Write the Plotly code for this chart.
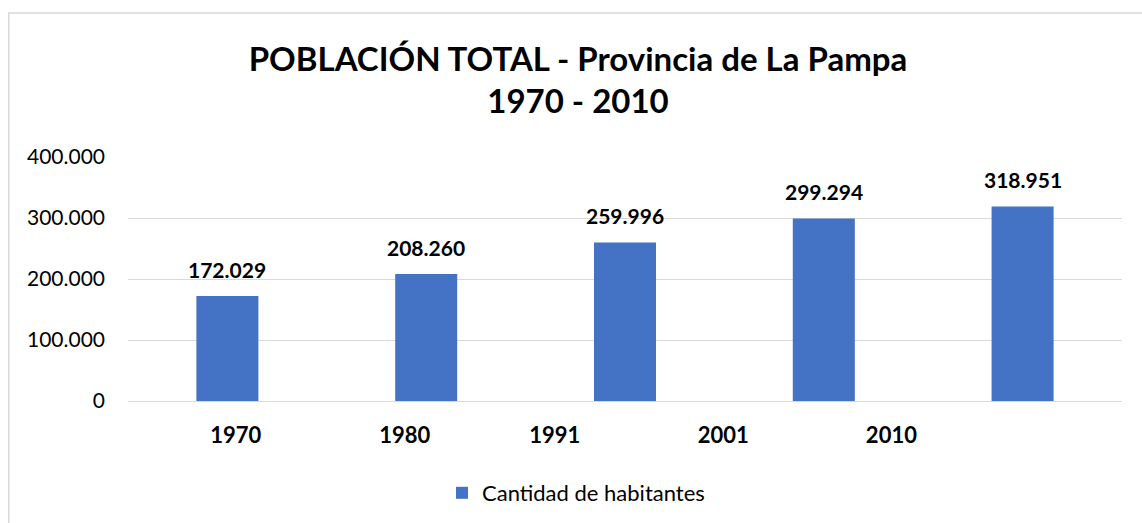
import plotly.graph_objects as go

# ---- data ----
categories = ["1970", "1980", "1991", "2001", "2010"]
poblacion = [172029, 208260, 259996, 299294, 318951]
year_labels = ["1970", "1980", "1991", "2001", "2010"]
year_label_pos = [0.1085, 0.2785, 0.4294, 0.5989, 0.768]  # fraction of plot width
y_ticks = [0, 100000, 200000, 300000, 400000]
series_name = "Cantidad de habitantes"
title_text = "POBLACIÓN TOTAL - Provincia de La Pampa<br>1970 - 2010"

FONT = "Lato"
BLUE = "#4472C4"
GRID = "#D9D9D9"

W, H = 1142, 523
L, R, T, B = 127.7, 20.3, 157, 122
pw, ph = W - L - R, H - T - B

fig = go.Figure()
fig.add_trace(go.Bar(
    x=categories, y=poblacion, name=series_name,
    marker=dict(color=BLUE, line=dict(width=0)),
    width=0.312,
))
# helper trace to realize the secondary (label) axis
fig.add_trace(go.Scatter(x=[], y=[], xaxis="x2", showlegend=False, hoverinfo="skip"))

def fmt(v):
    return f"{v:,}".replace(",", ".")

for i, v in enumerate(poblacion):
    fig.add_annotation(
        x=i, y=v, text=f"<b>{fmt(v)}</b>", showarrow=False,
        yanchor="bottom", yshift=12,
        font=dict(family=FONT, size=21, color="#000000"),
    )

# trailing descender of cut-off text at top
fig.add_annotation(
    xref="paper", yref="paper", x=(605 - L) / pw, y=(H - B + 1) / ph,
    text="p", showarrow=False, yanchor="bottom",
    font=dict(family=FONT, size=16, color="#000000"),
)

# chart border
fig.add_shape(
    type="rect", xref="paper", yref="paper",
    x0=(8.5 - L) / pw, x1=(W + 20 - L) / pw,
    y0=(H - B - (H + 20)) / ph, y1=(H - B - 13) / ph,
    line=dict(color=GRID, width=1.5), fillcolor="rgba(0,0,0,0)", layer="below",
)

fig.update_layout(
    width=W, height=H,
    margin=dict(l=L, r=R, t=T, b=B, autoexpand=False),
    paper_bgcolor="white", plot_bgcolor="white",
    separators=",.",
    title=dict(
        text=f"<b>{title_text}</b>", xref="container", yref="container",
        x=578 / W, xanchor="center", y=1 - 70.5 / H, yanchor="middle",
        font=dict(family=FONT, size=33, color="#000000"),
    ),
    font=dict(family=FONT),
    showlegend=True,
    legend=dict(
        orientation="h", xref="container", yref="container",
        x=442 / W, xanchor="left", y=1 - 493 / H, yanchor="middle",
        font=dict(family=FONT, size=22, color="#000000"),
        itemwidth=30,
    ),
    xaxis=dict(
        type="category", range=[-0.5, 4.5], showticklabels=False, showgrid=False,
        zeroline=False, showline=False, ticks="",
    ),
    xaxis2=dict(
        overlaying="x", side="bottom", range=[0, 1], showgrid=False, zeroline=False,
        showline=False, ticks="", tickvals=year_label_pos, ticktext=year_labels,
        tickfont=dict(family=FONT, size=22, color="#000000", weight="bold"),
        ticklabelstandoff=19,
    ),
    yaxis=dict(
        range=[0, 400000], tickvals=y_ticks, tickformat=",d",
        showgrid=True, gridcolor=GRID, gridwidth=1.3,
        zeroline=True, zerolinecolor=GRID, zerolinewidth=1.3,
        showline=False, ticks="",
        tickfont=dict(family=FONT, size=21, color="#000000"),
        ticklabelstandoff=22,
    ),
)

fig.write_html(
    "out.html",
    config={"displayModeBar": False},
    post_script="document.body.style.margin='0';",
)
